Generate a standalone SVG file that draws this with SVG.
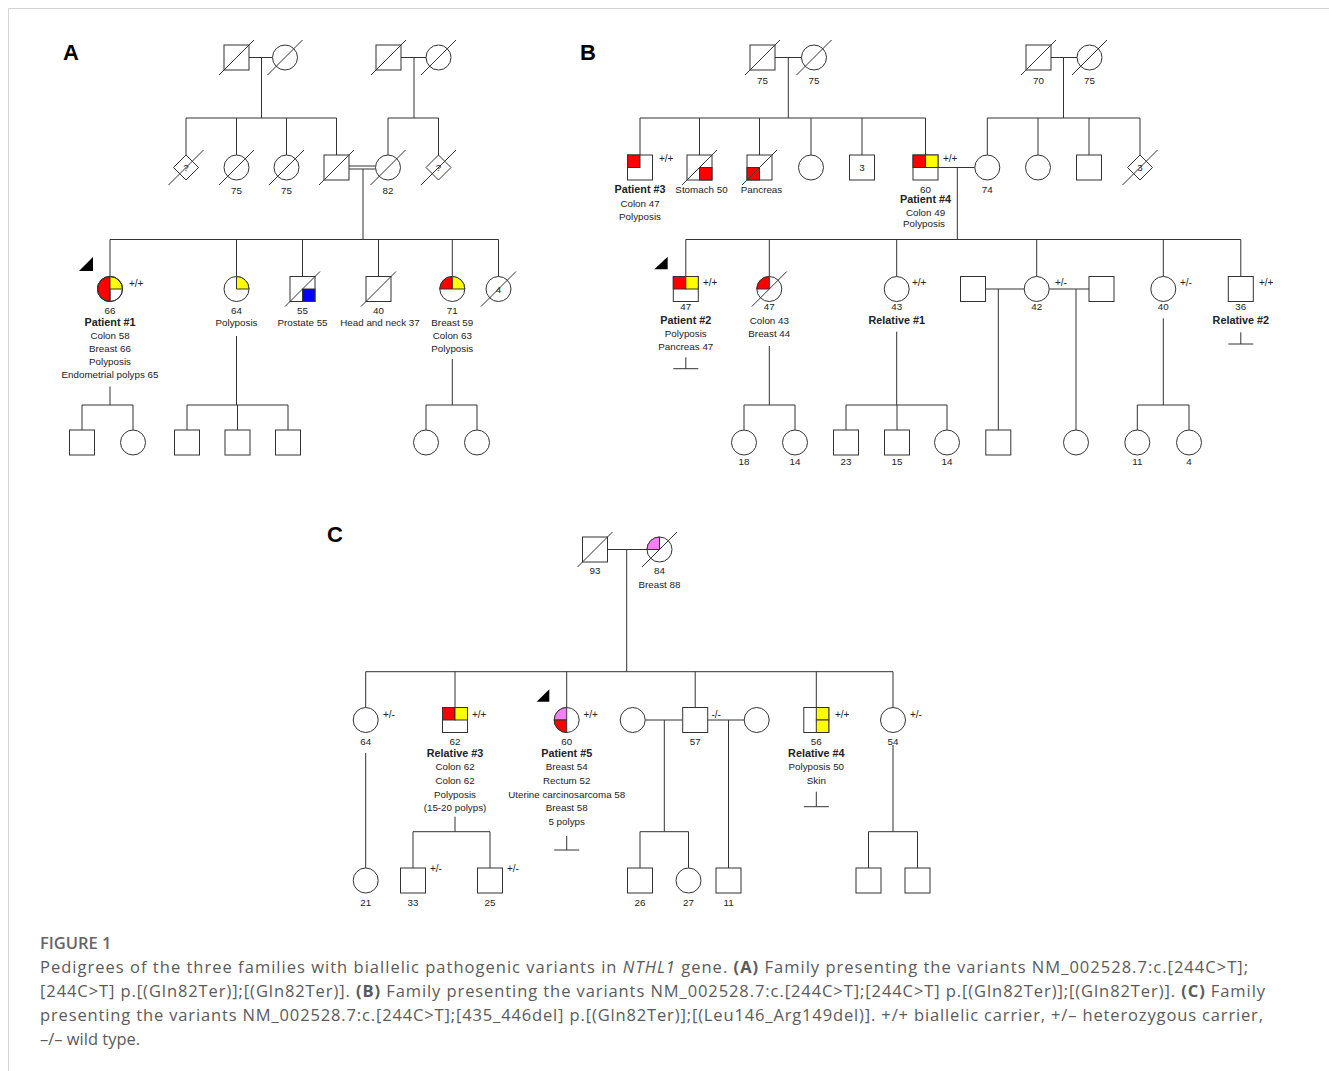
<svg xmlns="http://www.w3.org/2000/svg" width="1329" height="1071" viewBox="0 0 1329 1071">
<style>
.ln{stroke:#333;stroke-width:1;fill:none}
.sh{stroke:#333;stroke-width:1;fill:#fff}
.o{stroke:#333;stroke-width:1;fill:none}
.r{fill:#ff0000;stroke:#333;stroke-width:1}
.y{fill:#ffff00;stroke:#333;stroke-width:1}
.bl{fill:#0000ff;stroke:#333;stroke-width:1}
.p{fill:#f77ff5;stroke:#333;stroke-width:1}
.t{font-family:"Liberation Sans",Arial,sans-serif;font-size:9.8px;fill:#222;text-anchor:middle}
.b{font-weight:bold;font-size:10.8px}
.g{font-family:"Liberation Sans",Arial,sans-serif;font-size:10px;fill:#222;text-anchor:start}
.pl{font-family:"Liberation Sans",Arial,sans-serif;font-size:22px;font-weight:bold;fill:#000}
.cap{font-family:"Open Sans","Liberation Sans",sans-serif;font-size:16.5px;fill:#5a5a5a}
.tri{fill:#000}
</style>
<g id="frame"><line x1="8.5" y1="8.5" x2="1329" y2="8.5" stroke="#d4d4d4"/><line x1="8.5" y1="8.5" x2="8.5" y2="1071" stroke="#d4d4d4"/></g>
<text class="pl" x="63" y="60">A</text>
<text class="pl" x="580" y="60">B</text>
<text class="pl" x="327" y="542">C</text>

<g id="connectors">
<!-- Panel A -->
<path class="ln" d="M249,57.5H272.5M261.5,57.5V118M186,118H336.5M186,118V155M236.5,118V155M286.5,118V155M336.5,118V155"/>
<path class="ln" d="M401,57.5H426M414,57.5V118M388,118H438.5M388,118V155M438.5,118V155"/>
<path class="ln" d="M349,166H375.5M349,169H375.5M363,169V239.5"/>
<path class="ln" d="M110,239.5H498.5M110,239.5V276.5M236.5,239.5V276.5M302.5,239.5V276.5M378.5,239.5V276.5M452.3,239.5V276.5M498.5,239.5V276.5"/>
<path class="ln" d="M110,386.5V405M82,405H133M82,405V430M133,405V430"/>
<path class="ln" d="M236.5,336V405M187,405H288M187,405V430M237.5,405V430M288,405V430"/>
<path class="ln" d="M452.3,359V405M426,405H477M426,405V430M477,405V430"/>
<!-- Panel B -->
<path class="ln" d="M775,57.5H801.5M788.3,57.5V118M640,118H925.5M640,118V155M699.5,118V155M759.5,118V155M811,118V155M862,118V155M925.5,118V155"/>
<path class="ln" d="M1051,57.5H1077M1063.5,57.5V118M987.3,118H1140M987.3,118V155M1038,118V155M1089,118V155M1140,118V155"/>
<path class="ln" d="M938,167.5H974.8M957.3,167.5V239.5"/>
<path class="ln" d="M685.8,239.5H1240.8M685.8,239.5V276.5M769.3,239.5V276.5M896.7,239.5V276.5M1036.7,239.5V276.5M1163.3,239.5V276.5M1240.8,239.5V276.5"/>
<path class="ln" d="M685.8,357.3V368.7M673.3,368.7H698.3M1240.8,332.3V344M1228.3,344H1253.3"/>
<path class="ln" d="M769.3,346V405M744,405H795M744,405V430M795,405V430"/>
<path class="ln" d="M896.7,331.7V405M846,405H947M846,405V430M897,405V430M947,405V430"/>
<path class="ln" d="M985.5,289H1024.2M1049.2,289H1089M998.3,289V430M1076,289V430"/>
<path class="ln" d="M1163.3,318.3V405M1137.3,405H1189M1137.3,405V430M1189,405V430"/>
<!-- Panel C -->
<path class="ln" d="M607.5,549.5H647M626.7,549.5V671.7M365.7,671.7H893M365.7,671.7V707.5M455,671.7V707.5M566.7,671.7V707.5M695.2,671.7V707.5M816.3,671.7V707.5M893,671.7V707.5"/>
<path class="ln" d="M365.7,753V868"/>
<path class="ln" d="M455,816.7V831.7M413,831.7H490M413,831.7V868M490,831.7V868"/>
<path class="ln" d="M566.7,836V850M554.2,850H579.2M816.3,791.7V806.7M803.8,806.7H828.8"/>
<path class="ln" d="M645.2,720H682.7M707.7,720H744.2M664.3,720V831.7M640,831.7H688.5M640,831.7V868M688.5,831.7V868M728.5,720V868"/>
<path class="ln" d="M893,745V831.7M868.5,831.7H917.5M868.5,831.7V868M917.5,831.7V868"/>
</g>

<!-- Panel A nodes -->
<g id="A-I-1"><rect class="sh" x="224" y="45" width="25" height="25"/><line class="ln" x1="219" y1="75" x2="254" y2="40"/></g>
<g id="A-I-2"><circle class="sh" cx="285" cy="57.5" r="12.5"/><line class="ln" x1="267.5" y1="75" x2="302.5" y2="40"/></g>
<g id="A-I-3"><rect class="sh" x="376" y="45" width="25" height="25"/><line class="ln" x1="371" y1="75" x2="406" y2="40"/></g>
<g id="A-I-4"><circle class="sh" cx="438.5" cy="57.5" r="12.5"/><line class="ln" x1="421" y1="75" x2="456" y2="40"/></g>
<g id="A-II-1"><polygon class="sh" points="186,155 198.5,167.5 186,180 173.5,167.5"/><text class="t" x="186" y="171">?</text><line class="ln" x1="168.5" y1="185" x2="203.5" y2="150"/></g>
<g id="A-II-2"><circle class="sh" cx="236.5" cy="167.5" r="12.5"/><line class="ln" x1="219" y1="185" x2="254" y2="150"/><text class="t" x="236.5" y="194">75</text></g>
<g id="A-II-3"><circle class="sh" cx="286.5" cy="167.5" r="12.5"/><line class="ln" x1="269" y1="185" x2="304" y2="150"/><text class="t" x="286.5" y="194">75</text></g>
<g id="A-II-4"><rect class="sh" x="324" y="155" width="25" height="25"/><line class="ln" x1="319" y1="185" x2="354" y2="150"/></g>
<g id="A-II-5"><circle class="sh" cx="388" cy="167.5" r="12.5"/><line class="ln" x1="370.5" y1="185" x2="405.5" y2="150"/><text class="t" x="388" y="194">82</text></g>
<g id="A-II-6"><polygon class="sh" points="438.5,155 451,167.5 438.5,180 426,167.5"/><text class="t" x="438.5" y="171">?</text><line class="ln" x1="421" y1="185" x2="456" y2="150"/></g>

<g id="A-III-1">
<polygon class="tri" points="79,271 93,271 93,257"/>
<circle class="sh" cx="110" cy="289" r="12.5"/>
<path class="r" d="M110,276.5A12.5,12.5 0 0 0 110,301.5Z"/>
<path class="y" d="M110,289V276.5A12.5,12.5 0 0 1 122.5,289Z"/>
<path class="ln" d="M110,289V301.5"/>
<circle class="o" cx="110" cy="289" r="12.5"/>
<text class="g" x="129" y="286.5">+/+</text>
<text class="t" x="110" y="313.5">66</text>
<text class="t b" x="110" y="325.5">Patient #1</text>
<text class="t" x="110" y="338.5">Colon 58</text>
<text class="t" x="110" y="351.5">Breast 66</text>
<text class="t" x="110" y="364.5">Polyposis</text>
<text class="t" x="110" y="377.5">Endometrial polyps 65</text>
</g>
<g id="A-III-2"><circle class="sh" cx="236.5" cy="289" r="12.5"/><path class="y" d="M236.5,289V276.5A12.5,12.5 0 0 1 249,289Z"/><text class="t" x="236.5" y="313.5">64</text><text class="t" x="236.5" y="325.5">Polyposis</text></g>
<g id="A-III-3"><rect class="sh" x="290" y="276.5" width="25" height="25"/><rect class="bl" x="302.5" y="289" width="12.5" height="12.5"/><line class="ln" x1="285" y1="306.5" x2="320" y2="271.5"/><text class="t" x="302.5" y="313.5">55</text><text class="t" x="302.5" y="325.5">Prostate 55</text></g>
<g id="A-III-4"><rect class="sh" x="366" y="276.5" width="25" height="25"/><line class="ln" x1="361" y1="306.5" x2="396" y2="271.5"/><text class="t" x="378.5" y="313.5">40</text><text class="t" x="380" y="325.5">Head and neck 37</text></g>
<g id="A-III-5"><circle class="sh" cx="452.3" cy="289" r="12.5"/><path class="r" d="M452.3,289H439.8A12.5,12.5 0 0 1 452.3,276.5Z"/><path class="y" d="M452.3,289V276.5A12.5,12.5 0 0 1 464.8,289Z"/><text class="t" x="452.3" y="313.5">71</text><text class="t" x="452.3" y="325.5">Breast 59</text><text class="t" x="452.3" y="338.5">Colon 63</text><text class="t" x="452.3" y="351.5">Polyposis</text></g>
<g id="A-III-6"><circle class="sh" cx="498.5" cy="289" r="12.5"/><text class="t" x="498.5" y="292.5">4</text><line class="ln" x1="481" y1="306.5" x2="516" y2="271.5"/></g>

<g id="A-IV-1"><rect class="sh" x="69.5" y="430" width="25" height="25"/></g>
<g id="A-IV-2"><circle class="sh" cx="133" cy="442.5" r="12.5"/></g>
<g id="A-IV-3"><rect class="sh" x="174.5" y="430" width="25" height="25"/></g>
<g id="A-IV-4"><rect class="sh" x="225" y="430" width="25" height="25"/></g>
<g id="A-IV-5"><rect class="sh" x="275.5" y="430" width="25" height="25"/></g>
<g id="A-IV-6"><circle class="sh" cx="426" cy="442.5" r="12.5"/></g>
<g id="A-IV-7"><circle class="sh" cx="477" cy="442.5" r="12.5"/></g>

<!-- Panel B nodes -->
<g id="B-I-1"><rect class="sh" x="750" y="45" width="25" height="25"/><line class="ln" x1="745" y1="75" x2="780" y2="40"/><text class="t" x="762.5" y="83.5">75</text></g>
<g id="B-I-2"><circle class="sh" cx="814" cy="57.5" r="12.5"/><line class="ln" x1="796.5" y1="75" x2="831.5" y2="40"/><text class="t" x="814" y="83.5">75</text></g>
<g id="B-I-3"><rect class="sh" x="1026" y="45" width="25" height="25"/><line class="ln" x1="1021" y1="75" x2="1056" y2="40"/><text class="t" x="1038.5" y="83.5">70</text></g>
<g id="B-I-4"><circle class="sh" cx="1089.5" cy="57.5" r="12.5"/><line class="ln" x1="1072" y1="75" x2="1107" y2="40"/><text class="t" x="1089.5" y="83.5">75</text></g>

<g id="B-II-1"><rect class="sh" x="627.5" y="155" width="25" height="25"/><rect class="r" x="627.5" y="155" width="12.5" height="12.5"/><text class="g" x="659" y="162">+/+</text><text class="t b" x="640" y="193">Patient #3</text><text class="t" x="640" y="207">Colon 47</text><text class="t" x="640" y="219.5">Polyposis</text></g>
<g id="B-II-2"><rect class="sh" x="687" y="155" width="25" height="25"/><rect class="r" x="699.5" y="167.5" width="12.5" height="12.5"/><line class="ln" x1="682" y1="185" x2="717" y2="150"/><text class="t" x="701.5" y="193">Stomach 50</text></g>
<g id="B-II-3"><rect class="sh" x="747" y="155" width="25" height="25"/><rect class="r" x="747" y="167.5" width="12.5" height="12.5"/><line class="ln" x1="742" y1="185" x2="777" y2="150"/><text class="t" x="761.5" y="193">Pancreas</text></g>
<g id="B-II-4"><circle class="sh" cx="811" cy="167.5" r="12.5"/></g>
<g id="B-II-5"><rect class="sh" x="849.5" y="155" width="25" height="25"/><text class="t" x="862" y="171">3</text></g>
<g id="B-II-6"><rect class="sh" x="913" y="155" width="25" height="25"/><rect class="r" x="913" y="155" width="12.5" height="12.5"/><rect class="y" x="925.5" y="155" width="12.5" height="12.5"/><text class="g" x="943" y="162">+/+</text><text class="t" x="925.5" y="193">60</text><text class="t b" x="925.5" y="203">Patient #4</text><text class="t" x="925.5" y="215.5">Colon 49</text><text class="t" x="924" y="227">Polyposis</text></g>
<g id="B-II-7"><circle class="sh" cx="987.3" cy="167.5" r="12.5"/><text class="t" x="987.3" y="193">74</text></g>
<g id="B-II-8"><circle class="sh" cx="1038" cy="167.5" r="12.5"/></g>
<g id="B-II-9"><rect class="sh" x="1076.5" y="155" width="25" height="25"/></g>
<g id="B-II-10"><polygon class="sh" points="1140,155 1152.5,167.5 1140,180 1127.5,167.5"/><text class="t" x="1140" y="171">3</text><line class="ln" x1="1122.5" y1="185" x2="1157.5" y2="150"/></g>

<g id="B-III-1"><polygon class="tri" points="654.3,269.3 667.7,269.3 667.7,256.7"/><rect class="sh" x="673.3" y="276.5" width="25" height="25"/><rect class="r" x="673.3" y="276.5" width="12.5" height="12.5"/><rect class="y" x="685.8" y="276.5" width="12.5" height="12.5"/><text class="g" x="703" y="285.5">+/+</text><text class="t" x="685.8" y="310">47</text><text class="t b" x="685.8" y="324">Patient #2</text><text class="t" x="685.8" y="336.5">Polyposis</text><text class="t" x="685.8" y="349.5">Pancreas 47</text></g>
<g id="B-III-2"><circle class="sh" cx="769.3" cy="289" r="12.5"/><path class="r" d="M769.3,289H756.8A12.5,12.5 0 0 1 769.3,276.5Z"/><line class="ln" x1="751.8" y1="306.5" x2="786.8" y2="271.5"/><text class="t" x="769.3" y="310">47</text><text class="t" x="769.3" y="323.5">Colon 43</text><text class="t" x="769.3" y="336.5">Breast 44</text></g>
<g id="B-III-3"><circle class="sh" cx="896.7" cy="289" r="12.5"/><text class="g" x="912" y="285.5">+/+</text><text class="t" x="896.7" y="310">43</text><text class="t b" x="896.7" y="324">Relative #1</text></g>
<g id="B-III-4"><rect class="sh" x="960.5" y="276.5" width="25" height="25"/></g>
<g id="B-III-5"><circle class="sh" cx="1036.7" cy="289" r="12.5"/><text class="g" x="1055" y="285.5">+/-</text><text class="t" x="1036.7" y="310">42</text></g>
<g id="B-III-6"><rect class="sh" x="1089" y="276.5" width="25" height="25"/></g>
<g id="B-III-7"><circle class="sh" cx="1163.3" cy="289" r="12.5"/><text class="g" x="1180" y="285.5">+/-</text><text class="t" x="1163.3" y="310">40</text></g>
<g id="B-III-8"><rect class="sh" x="1228.3" y="276.5" width="25" height="25"/><text class="g" x="1259" y="285.5">+/+</text><text class="t" x="1240.8" y="310">36</text><text class="t b" x="1240.8" y="324">Relative #2</text></g>

<g id="B-IV-1"><circle class="sh" cx="744" cy="442.5" r="12.5"/><text class="t" x="744" y="465">18</text></g>
<g id="B-IV-2"><circle class="sh" cx="795" cy="442.5" r="12.5"/><text class="t" x="795" y="465">14</text></g>
<g id="B-IV-3"><rect class="sh" x="833.5" y="430" width="25" height="25"/><text class="t" x="846" y="465">23</text></g>
<g id="B-IV-4"><rect class="sh" x="884.5" y="430" width="25" height="25"/><text class="t" x="897" y="465">15</text></g>
<g id="B-IV-5"><circle class="sh" cx="947" cy="442.5" r="12.5"/><text class="t" x="947" y="465">14</text></g>
<g id="B-IV-6"><rect class="sh" x="985.8" y="430" width="25" height="25"/></g>
<g id="B-IV-7"><circle class="sh" cx="1076" cy="442.5" r="12.5"/></g>
<g id="B-IV-8"><circle class="sh" cx="1137.3" cy="442.5" r="12.5"/><text class="t" x="1137.3" y="465">11</text></g>
<g id="B-IV-9"><circle class="sh" cx="1189" cy="442.5" r="12.5"/><text class="t" x="1189" y="465">4</text></g>

<!-- Panel C nodes -->
<g id="C-I-1"><rect class="sh" x="582.5" y="537" width="25" height="25"/><line class="ln" x1="577.5" y1="567" x2="612.5" y2="532"/><text class="t" x="595" y="574">93</text></g>
<g id="C-I-2"><circle class="sh" cx="659.5" cy="549.5" r="12.5"/><path class="p" d="M659.5,549.5H647A12.5,12.5 0 0 1 659.5,537Z"/><line class="ln" x1="642" y1="567" x2="677" y2="532"/><text class="t" x="659.5" y="574">84</text><text class="t" x="659.5" y="587.5">Breast 88</text></g>

<g id="C-II-1"><circle class="sh" cx="365.7" cy="720" r="12.5"/><text class="g" x="383" y="717.5">+/-</text><text class="t" x="365.7" y="745">64</text></g>
<g id="C-II-2"><rect class="sh" x="442.5" y="707.5" width="25" height="25"/><rect class="r" x="442.5" y="707.5" width="12.5" height="12.5"/><rect class="y" x="455" y="707.5" width="12.5" height="12.5"/><text class="g" x="472" y="717.5">+/+</text><text class="t" x="455" y="745">62</text><text class="t b" x="455" y="756.5">Relative #3</text><text class="t" x="455" y="769.5">Colon 62</text><text class="t" x="455" y="783.5">Colon 62</text><text class="t" x="455" y="797.5">Polyposis</text><text class="t" x="455" y="810.5">(15-20 polyps)</text></g>
<g id="C-II-3"><polygon class="tri" points="536.7,701.7 549.3,701.7 549.3,689.3"/><circle class="sh" cx="566.7" cy="720" r="12.5"/><path class="p" d="M566.7,720H554.2A12.5,12.5 0 0 1 566.7,707.5Z"/><path class="r" d="M566.7,720V732.5A12.5,12.5 0 0 1 554.2,720Z"/><text class="g" x="583.5" y="717.5">+/+</text><text class="t" x="566.7" y="745">60</text><text class="t b" x="566.7" y="756.5">Patient #5</text><text class="t" x="566.7" y="769.5">Breast 54</text><text class="t" x="566.7" y="783.5">Rectum 52</text><text class="t" x="566.7" y="797.5">Uterine carcinosarcoma 58</text><text class="t" x="566.7" y="811">Breast 58</text><text class="t" x="566.7" y="825">5 polyps</text></g>
<g id="C-II-4"><circle class="sh" cx="632.7" cy="720" r="12.5"/></g>
<g id="C-II-5"><rect class="sh" x="682.7" y="707.5" width="25" height="25"/><text class="g" x="711.5" y="717.5">-/-</text><text class="t" x="695.2" y="745">57</text></g>
<g id="C-II-6"><circle class="sh" cx="756.7" cy="720" r="12.5"/></g>
<g id="C-II-7"><rect class="sh" x="803.8" y="707.5" width="25" height="25"/><rect class="y" x="816.3" y="707.5" width="12.5" height="12.5"/><rect class="y" x="816.3" y="720" width="12.5" height="12.5"/><text class="g" x="835" y="717.5">+/+</text><text class="t" x="816.3" y="745">56</text><text class="t b" x="816.3" y="756.5">Relative #4</text><text class="t" x="816.3" y="770">Polyposis 50</text><text class="t" x="816.3" y="783.5">Skin</text></g>
<g id="C-II-8"><circle class="sh" cx="893" cy="720" r="12.5"/><text class="g" x="910" y="717.5">+/-</text><text class="t" x="893" y="745">54</text></g>

<g id="C-III-1"><circle class="sh" cx="365.7" cy="880.5" r="12.5"/><text class="t" x="365.7" y="905.5">21</text></g>
<g id="C-III-2"><rect class="sh" x="400.5" y="868" width="25" height="25"/><text class="g" x="430" y="871.5">+/-</text><text class="t" x="413" y="905.5">33</text></g>
<g id="C-III-3"><rect class="sh" x="477.5" y="868" width="25" height="25"/><text class="g" x="507" y="871.5">+/-</text><text class="t" x="490" y="905.5">25</text></g>
<g id="C-III-4"><rect class="sh" x="627.5" y="868" width="25" height="25"/><text class="t" x="640" y="905.5">26</text></g>
<g id="C-III-5"><circle class="sh" cx="688.5" cy="880.5" r="12.5"/><text class="t" x="688.5" y="905.5">27</text></g>
<g id="C-III-6"><rect class="sh" x="716" y="868" width="25" height="25"/><text class="t" x="728.5" y="905.5">11</text></g>
<g id="C-III-7"><rect class="sh" x="856" y="868" width="25" height="25"/></g>
<g id="C-III-8"><rect class="sh" x="905" y="868" width="25" height="25"/></g>

<g id="caption">
<text class="cap" x="40" y="949" style="font-weight:600;fill:#666">FIGURE 1</text>
<text class="cap" x="40" y="973" textLength="1208">Pedigrees of the three families with biallelic pathogenic variants in <tspan font-style="italic">NTHL1</tspan> gene. <tspan font-weight="bold">(A)</tspan> Family presenting the variants NM_002528.7:c.[244C&gt;T];</text>
<text class="cap" x="40" y="997" textLength="1225">[244C&gt;T] p.[(Gln82Ter)];[(Gln82Ter)]. <tspan font-weight="bold">(B)</tspan> Family presenting the variants NM_002528.7:c.[244C&gt;T];[244C&gt;T] p.[(Gln82Ter)];[(Gln82Ter)]. <tspan font-weight="bold">(C)</tspan> Family</text>
<text class="cap" x="40" y="1021" textLength="1223">presenting the variants NM_002528.7:c.[244C&gt;T];[435_446del] p.[(Gln82Ter)];[(Leu146_Arg149del)]. +/+ biallelic carrier, +/– heterozygous carrier,</text>
<text class="cap" x="40" y="1045">–/– wild type.</text>
</g>
</svg>
